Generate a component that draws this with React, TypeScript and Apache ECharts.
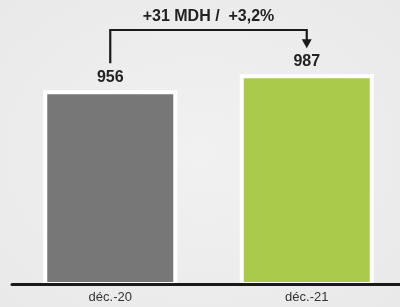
import React, { useEffect, useRef } from "react";
import * as echarts from "echarts";

const categories = ["déc.-20", "déc.-21"];
const values = [956, 987];
const barColors = ["#777777", "#a9ca4a"];
const deltaLabel = "+31 MDH /  +3,2%";

export default function App() {
  const ref = useRef<HTMLDivElement>(null);
  useEffect(() => {
    if (!ref.current) return;
    const chart = echarts.init(ref.current, null, { renderer: "svg" });
    const font = "'Liberation Sans', Arial, sans-serif";
    chart.setOption({
      animation: false,
      grid: { left: 12, width: 393, top: 16, bottom: 23 },
      xAxis: {
        type: "category",
        data: categories,
        z: 10,
        axisLine: { lineStyle: { color: "#1a1a1a", width: 3 } },
        axisTick: { show: false },
        axisLabel: { color: "#333", fontSize: 13, fontFamily: font, margin: 6 },
      },
      yAxis: {
        type: "value",
        min: 580,
        max: 1100,
        show: false,
        splitLine: { show: false },
      },
      series: [
        {
          type: "bar",
          barWidth: 134,
          data: values.map((v, i) => ({ value: v, itemStyle: { color: barColors[i] } })),
          itemStyle: { borderColor: "#ffffff", borderWidth: 4 },
          label: {
            show: true,
            position: "top",
            distance: 6,
            color: "#222",
            fontSize: 16,
            fontWeight: "bold",
            fontFamily: font,
          },
        },
      ],
    });
    const x1 = chart.convertToPixel({ xAxisIndex: 0 }, categories[0]) as number;
    const x2 = chart.convertToPixel({ xAxisIndex: 0 }, categories[1]) as number;
    const y1 = chart.convertToPixel({ yAxisIndex: 0 }, values[0]) as number;
    const y2 = chart.convertToPixel({ yAxisIndex: 0 }, values[1]) as number;
    const topY = 30;
    const lineStyle = { stroke: "#1a1a1a", lineWidth: 2.2, fill: "none" };
    chart.setOption({
      graphic: [
        {
          type: "polyline",
          shape: { points: [[x1, y1 - 27], [x1, topY], [x2, topY], [x2, y2 - 34]] },
          style: lineStyle,
        },
        {
          type: "polygon",
          shape: { points: [[x2 - 5, y2 - 35], [x2 + 5, y2 - 35], [x2, y2 - 26]] },
          style: { fill: "#1a1a1a" },
        },
        {
          type: "text",
          x: (x1 + x2) / 2,
          y: 15,
          style: {
            text: deltaLabel,
            fill: "#222",
            fontSize: 16,
            fontWeight: "bold",
            fontFamily: font,
            align: "center",
            verticalAlign: "middle",
          },
        },
      ],
    });
    return () => chart.dispose();
  }, []);
  return (
    <div
      style={{
        position: "fixed",
        left: 0,
        top: 0,
        width: 400,
        height: 307,
        overflow: "hidden",
        background: "radial-gradient(ellipse at center, #f1f1f1 0%, #e9e9e9 100%)",
      }}
    >
      <div ref={ref} style={{ width: 410, height: 307 }} />
    </div>
  );
}
